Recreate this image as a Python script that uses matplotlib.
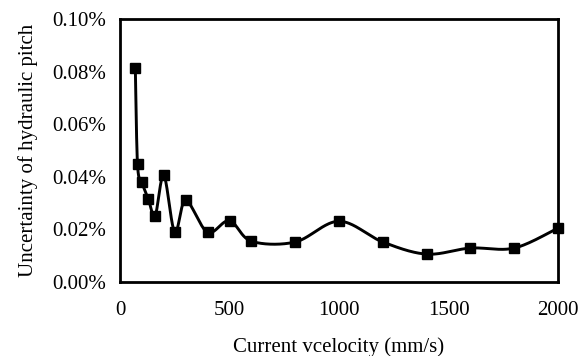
import numpy as np
import matplotlib.pyplot as plt
from matplotlib.ticker import FuncFormatter

# velocity (mm/s) and uncertainty (%)
velocity = [70, 80, 100, 130, 160, 200, 250, 300, 400, 500, 600, 800,
            1000, 1200, 1400, 1600, 1800, 2000]
uncertainty = [0.0814, 0.0447, 0.0379, 0.0314, 0.0250, 0.0405, 0.0189, 0.0310,
               0.0189, 0.0233, 0.0155, 0.0152, 0.0231, 0.0152, 0.0106, 0.0129,
               0.0129, 0.0205]


def smooth(x, y, n=40):
    # Excel-like smoothed line: Catmull-Rom via cubic Bezier
    x = np.asarray(x, float)
    y = np.asarray(y, float)
    xs, ys = [], []
    t = np.linspace(0, 1, n)
    for i in range(len(x) - 1):
        i0 = max(i - 1, 0)
        i3 = min(i + 2, len(x) - 1)
        p0 = np.array([x[i], y[i]])
        p3 = np.array([x[i + 1], y[i + 1]])
        c1 = p0 + (np.array([x[i + 1], y[i + 1]]) - np.array([x[i0], y[i0]])) / 6
        c2 = p3 - (np.array([x[i3], y[i3]]) - np.array([x[i], y[i]])) / 6
        b = ((1 - t) ** 3)[:, None] * p0 + (3 * (1 - t) ** 2 * t)[:, None] * c1 \
            + (3 * (1 - t) * t ** 2)[:, None] * c2 + (t ** 3)[:, None] * p3
        xs.extend(b[:, 0])
        ys.extend(b[:, 1])
    return np.array(xs), np.array(ys)


plt.rcParams['font.family'] = ['Liberation Serif', 'DejaVu Serif']

fig = plt.figure(figsize=(5.87, 3.56), dpi=100)
ax = fig.add_axes([120 / 587, 1 - 282 / 356, 438 / 587, 263 / 356])

sx, sy = smooth(velocity, uncertainty)
ax.plot(sx, sy, color='black', lw=2.1, zorder=2)
ax.plot(velocity, uncertainty, 's', color='black', ms=6.5, zorder=3,
        clip_on=False)

ax.set_xlim(0, 2000)
ax.set_ylim(0, 0.1)
ax.set_xticks([0, 500, 1000, 1500, 2000])
ax.set_yticks(np.arange(0, 0.101, 0.02))
ax.yaxis.set_major_formatter(FuncFormatter(lambda v, p: '%.2f%%' % v))
ax.tick_params(length=0, labelsize=15)
ax.tick_params(axis='x', pad=14)
ax.tick_params(axis='y', pad=10)
for s in ax.spines.values():
    s.set_linewidth(2)

ax.set_xlabel('Current vcelocity (mm/s)', fontsize=15, labelpad=12)
ax.set_ylabel('Uncertainty of hydraulic pitch', fontsize=15, labelpad=10)

fig.savefig('out.png', dpi=100)
